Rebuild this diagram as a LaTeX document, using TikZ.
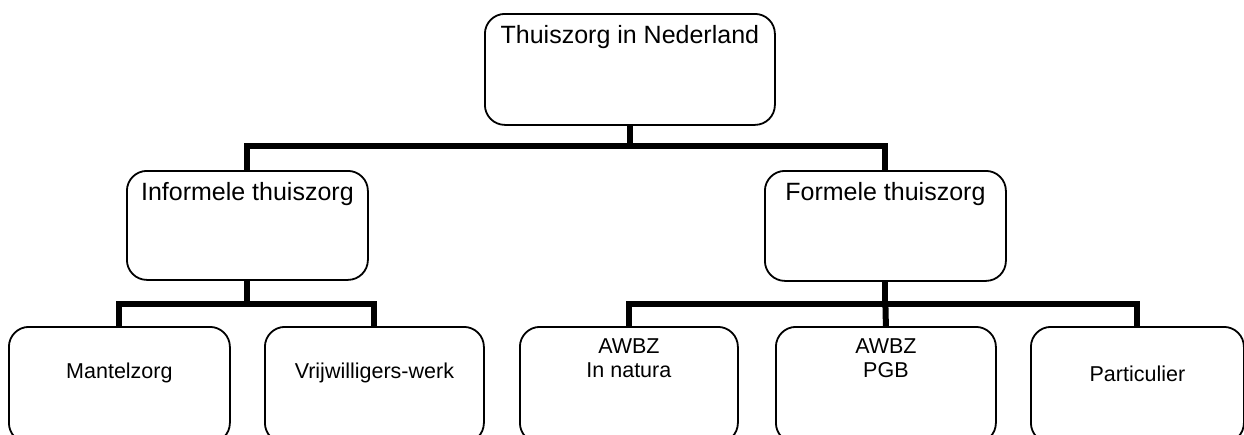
\documentclass[tikz,border=0pt]{standalone}
\usepackage{fontspec}
\setmainfont{Liberation Sans}

% Box content: width, height, first-baseline drop, font size, line skip, text
\newcommand{\cardtext}[6]{%
  \parbox[t][#2pt][t]{#1pt}{\centering\fontsize{#4}{#5}\selectfont
    \rule{0pt}{#3pt}#6\par}}

\tikzset{
  card/.style={draw=black, line width=1.8pt, rounded corners=20pt,
    inner sep=0pt, anchor=north west, fill=white},
  wire/.style={draw=black, line width=6pt, line join=miter}
}

\begin{document}
\begin{tikzpicture}[x=1pt, y=-1pt]
  \useasboundingbox (0,0) rectangle (1244,434);
  \clip (0,0) rectangle (1244,434);

  % root
  \node[card] (root) at (484,13)
    {\cardtext{290}{111}{30}{25}{30}{Thuiszorg in Nederland}};

  % second level
  \node[card] (inf) at (126,170)
    {\cardtext{241}{109}{30}{25}{30}{Informele thuiszorg}};
  \node[card] (form) at (764,170)
    {\cardtext{241}{110}{30}{25}{30}{Formele thuiszorg}};

  % leaves
  \node[card] (mz) at (8,326)
    {\cardtext{221}{116}{52}{21.5}{24}{Mantelzorg}};
  \node[card] (vw) at (264,326)
    {\cardtext{219}{116}{52}{21.5}{24}{Vrijwilligers-werk}};
  \node[card] (aw1) at (519,326)
    {\cardtext{218}{116}{27}{21.5}{24}{AWBZ\\In natura}};
  \node[card] (aw2) at (775,326)
    {\cardtext{220}{116}{27}{21.5}{24}{AWBZ\\PGB}};
  \node[card] (part) at (1030,326)
    {\cardtext{213}{116}{55}{21.5}{24}{Particulier}};

  % bus lines
  \coordinate (busA) at (root.south |- 0,146);
  \coordinate (busB) at (inf.south |- 0,304);
  \coordinate (busC) at (form.south |- 0,304);

  \draw[wire] (root.south) -- (busA);
  \draw[wire] (inf.north) |- (busA) -| (form.north);

  \draw[wire] (inf.south) -- (busB);
  \draw[wire] (mz.north) |- (busB) -| (vw.north);

  \draw[wire] (form.south) -- (busC);
  \draw[wire] (aw1.north) |- (busC) -| (part.north);
  \draw[wire] (busC) -- (aw2.north);
\end{tikzpicture}
\end{document}
